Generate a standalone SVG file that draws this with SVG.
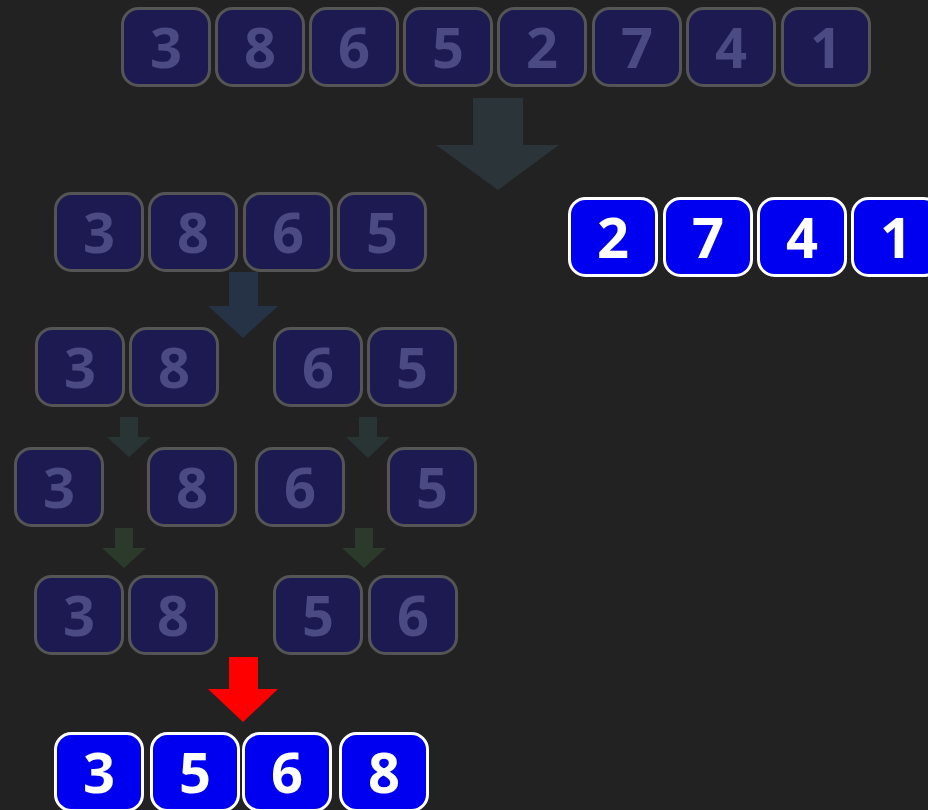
<svg xmlns="http://www.w3.org/2000/svg" width="928" height="810" viewBox="0 0 928 810">
<style>
.dim rect{fill:#1c1a50;stroke:#555555;stroke-width:3}
.dim text{fill:#4b4a82}
.hi rect{fill:#0000f0;stroke:#ffffff;stroke-width:3}
.hi text{fill:#ffffff}
text{font-family:"Open Sans","Noto Sans","DejaVu Sans",sans-serif;font-weight:bold;font-size:56px;text-anchor:middle}
</style>
<rect width="928" height="810" fill="#222222"/>
<g id="connectors">
<polygon points="473,98 523,98 523,145 559,145 498,190 436,145 473,145" fill="#2b3539"/>
<polygon points="229,272 258,272 258,306 278,306 243,338 208,306 229,306" fill="#263246"/>
<polygon points="120,417 138,417 138,437 151,437 129,457 107,437 120,437" fill="#293535"/>
<polygon points="359,417 377,417 377,437 390,437 368,458 346,437 359,437" fill="#293535"/>
<polygon points="115,528 133,528 133,548 146,548 124,568 102,548 115,548" fill="#2b3a2b"/>
<polygon points="355,528 373,528 373,548 386,548 364,568 342,548 355,548" fill="#2b3a2b"/>
<polygon points="229,657 258,657 258,689 278,689 243,722 208,689 229,689" fill="#ff0000"/>
</g>
<!-- Row 1 -->
<g id="r1-3" class="dim"><rect x="122.5" y="8.5" width="87" height="77" rx="16"/><text x="166" y="68">3</text></g>
<g id="r1-8" class="dim"><rect x="216.5" y="8.5" width="87" height="77" rx="16"/><text x="260" y="68">8</text></g>
<g id="r1-6" class="dim"><rect x="310.5" y="8.5" width="87" height="77" rx="16"/><text x="354" y="68">6</text></g>
<g id="r1-5" class="dim"><rect x="404.5" y="8.5" width="87" height="77" rx="16"/><text x="448" y="68">5</text></g>
<g id="r1-2" class="dim"><rect x="498.5" y="8.5" width="87" height="77" rx="16"/><text x="542" y="68">2</text></g>
<g id="r1-7" class="dim"><rect x="593.5" y="8.5" width="87" height="77" rx="16"/><text x="637" y="68">7</text></g>
<g id="r1-4" class="dim"><rect x="687.5" y="8.5" width="87" height="77" rx="16"/><text x="731" y="68">4</text></g>
<g id="r1-1" class="dim"><rect x="782.5" y="8.5" width="87" height="77" rx="16"/><text x="826" y="68">1</text></g>
<!-- Row 2 left -->
<g id="r2-3" class="dim"><rect x="55.5" y="193.5" width="87" height="77" rx="16"/><text x="99" y="253">3</text></g>
<g id="r2-8" class="dim"><rect x="149.5" y="193.5" width="87" height="77" rx="16"/><text x="193" y="253">8</text></g>
<g id="r2-6" class="dim"><rect x="244.5" y="193.5" width="87" height="77" rx="16"/><text x="288" y="253">6</text></g>
<g id="r2-5" class="dim"><rect x="338.5" y="193.5" width="87" height="77" rx="16"/><text x="382" y="253">5</text></g>
<!-- Row 2 right -->
<g id="r2-2" class="hi"><rect x="569.5" y="198.5" width="87" height="77" rx="16"/><text x="613" y="258">2</text></g>
<g id="r2-7" class="hi"><rect x="664.5" y="198.5" width="87" height="77" rx="16"/><text x="708" y="258">7</text></g>
<g id="r2-4" class="hi"><rect x="758.5" y="198.5" width="87" height="77" rx="16"/><text x="802" y="258">4</text></g>
<g id="r2-1" class="hi"><rect x="852.5" y="198.5" width="87" height="77" rx="16"/><text x="896" y="258">1</text></g>
<!-- Row 3 -->
<g id="r3-3" class="dim"><rect x="36.5" y="328.5" width="87" height="77" rx="16"/><text x="80" y="388">3</text></g>
<g id="r3-8" class="dim"><rect x="130.5" y="328.5" width="87" height="77" rx="16"/><text x="174" y="388">8</text></g>
<g id="r3-6" class="dim"><rect x="274.5" y="328.5" width="87" height="77" rx="16"/><text x="318" y="388">6</text></g>
<g id="r3-5" class="dim"><rect x="368.5" y="328.5" width="87" height="77" rx="16"/><text x="412" y="388">5</text></g>
<!-- Row 4 -->
<g id="r4-3" class="dim"><rect x="15.5" y="448.5" width="87" height="77" rx="16"/><text x="59" y="508">3</text></g>
<g id="r4-8" class="dim"><rect x="148.5" y="448.5" width="87" height="77" rx="16"/><text x="192" y="508">8</text></g>
<g id="r4-6" class="dim"><rect x="256.5" y="448.5" width="87" height="77" rx="16"/><text x="300" y="508">6</text></g>
<g id="r4-5" class="dim"><rect x="388.5" y="448.5" width="87" height="77" rx="16"/><text x="432" y="508">5</text></g>
<!-- Row 5 -->
<g id="r5-3" class="dim"><rect x="35.5" y="576.5" width="87" height="77" rx="16"/><text x="79" y="636">3</text></g>
<g id="r5-8" class="dim"><rect x="129.5" y="576.5" width="87" height="77" rx="16"/><text x="173" y="636">8</text></g>
<g id="r5-5" class="dim"><rect x="274.5" y="576.5" width="87" height="77" rx="16"/><text x="318" y="636">5</text></g>
<g id="r5-6" class="dim"><rect x="369.5" y="576.5" width="87" height="77" rx="16"/><text x="413" y="636">6</text></g>
<!-- Row 6 -->
<g id="r6-3" class="hi"><rect x="55.5" y="733.5" width="87" height="77" rx="16"/><text x="99" y="793">3</text></g>
<g id="r6-5" class="hi"><rect x="151.5" y="733.5" width="87" height="77" rx="16"/><text x="195" y="793">5</text></g>
<g id="r6-6" class="hi"><rect x="243.5" y="733.5" width="87" height="77" rx="16"/><text x="287" y="793">6</text></g>
<g id="r6-8" class="hi"><rect x="340.5" y="733.5" width="87" height="77" rx="16"/><text x="384" y="793">8</text></g>
</svg>
